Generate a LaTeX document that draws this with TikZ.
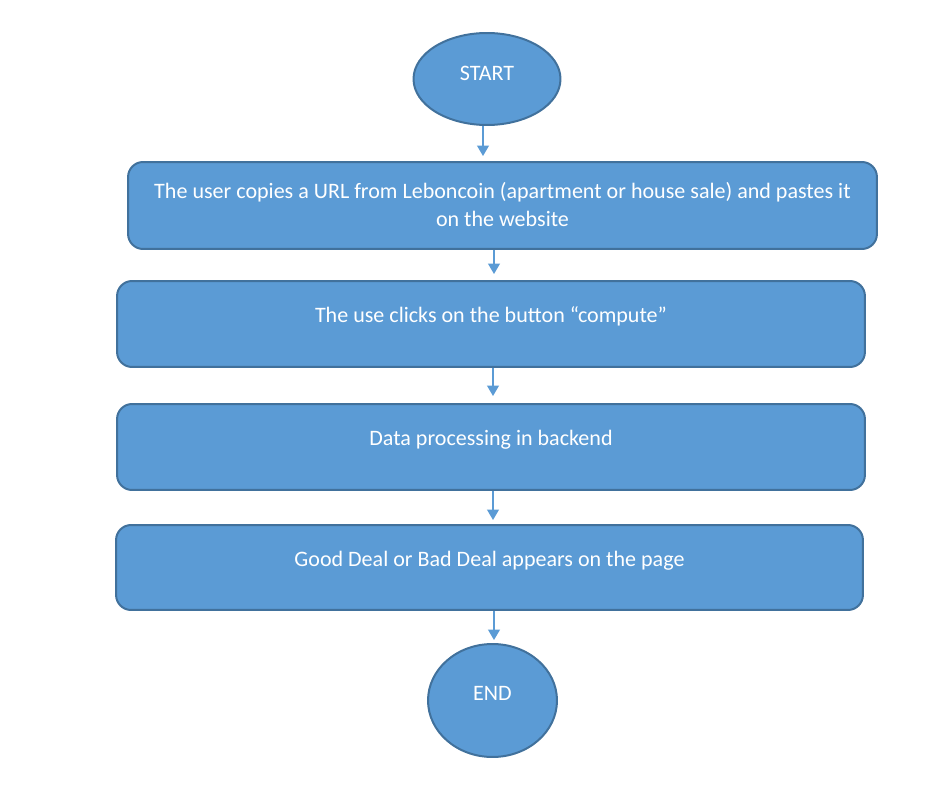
\documentclass[tikz,border=0pt]{standalone}
\usepackage{fontspec}
\setmainfont{Carlito}
\usepackage{tikz}
\usetikzlibrary{shapes.geometric,arrows.meta}
\definecolor{boxfill}{HTML}{5B9BD5}
\definecolor{boxline}{HTML}{41719C}

\begin{document}
\begin{tikzpicture}[x=0.02cm, y=-0.02cm,
  stepbox/.style={draw=boxline, fill=boxfill, line width=0.04cm, rounded corners=0.3cm, minimum height=1.72cm},
  terminal/.style={draw=boxline, fill=boxfill, line width=0.04cm, ellipse, inner sep=0pt},
  boxtext/.style={text=white, font=\fontsize{12.55}{16.4}\selectfont, align=center},
  flow/.style={-{Triangle[width=0.24cm, length=0.21cm]}, draw=boxfill, line width=0.025cm, shorten >=0.12cm}]

\useasboundingbox (0,0) rectangle (946,790);

\node[terminal, minimum width=2.94cm, minimum height=1.84cm, label={[boxtext, yshift=0.12cm]center:START}] (start) at (487,79) {};

\node[stepbox, minimum width=14.98cm, minimum height=1.74cm, label={[boxtext, yshift=0.02cm]center:The user copies a URL from Leboncoin (apartment or house sale) and pastes it\\on the website}] (copy url) at (502.5,205.5) {};
\node[stepbox, minimum width=14.96cm, label={[boxtext, yshift=0.15cm]center:The use clicks on the button “compute”}] (compute) at (491,324) {};
\node[stepbox, minimum width=14.96cm, label={[boxtext, yshift=0.15cm]center:Data processing in backend}] (backend) at (491,447) {};
\node[stepbox, minimum width=14.94cm, minimum height=1.70cm, label={[boxtext, yshift=0.14cm]center:Good Deal or Bad Deal appears on the page}] (result) at (489.5,567.5) {};

\node[terminal, minimum width=2.58cm, minimum height=2.26cm, label={[boxtext, yshift=0.15cm]center:END}] (end) at (492.5,700.5) {};

\draw[flow, shorten >=0.1cm] ([xshift=-0.08cm]start.south) -- ([xshift=-0.08cm]start.south |- copy url.north) {};
\draw[flow] ([xshift=-0.17cm]copy url.south) -- ([xshift=-0.17cm]copy url.south |- compute.north) {};
\draw[flow, shorten >=0.14cm] ([xshift=0.04cm]compute.south) -- ([xshift=0.04cm]compute.south |- backend.north) {};
\draw[flow, shorten >=0.08cm] ([xshift=0.04cm]backend.south) -- ([xshift=0.04cm]backend.south |- result.north) {};
\draw[flow, shorten >=0.06cm] ([xshift=0.09cm]result.south) -- ([xshift=0.09cm]result.south |- end.north) {};

\end{tikzpicture}
\end{document}
